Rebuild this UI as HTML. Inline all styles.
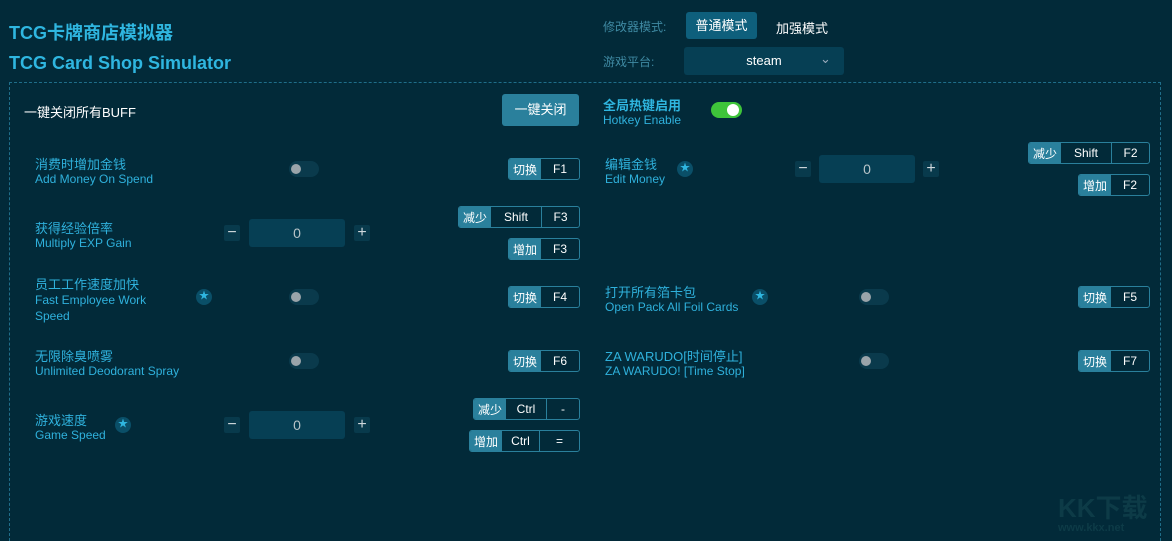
<!DOCTYPE html><html><head><meta charset="utf-8"><style>
*{margin:0;padding:0;box-sizing:border-box}
html,body{width:1172px;height:541px;overflow:hidden}
body{background:#022a39;font-family:"Liberation Sans","Noto Sans CJK SC",sans-serif;position:relative;color:#fff}
.a{position:absolute;white-space:nowrap}
.t{font-weight:bold;color:#2fb6e0;font-size:18px}
.cn{color:#2fb1dc;font-size:13px}
.en{color:#2fb1dc;font-size:12px}
.box{position:absolute;left:9px;top:82px;width:1152px;height:459px;border:1px dashed #1f6e8a;border-bottom:none}
.btn{position:absolute;background:#2a809c;border-radius:3px;color:#fff;font-size:13px;text-align:center}
.tg{position:absolute;width:30px;height:16px;border-radius:8px;background:#0a3a4c}
.tg:after{content:"";position:absolute;left:2px;top:3px;width:10px;height:10px;border-radius:50%;background:#9aa4aa}
.hk{position:absolute;height:22px;border:1px solid #2a809c;border-radius:3px;display:flex;font-size:12px;color:#fff;overflow:hidden}
.hk span{display:flex;align-items:center;justify-content:center;height:100%}
.hk .l{background:#2a809c;padding:0 4px}
.hk .k{border-left:1px solid #2a809c}
.hk .k:nth-child(2){border-left:none}
.sb{position:absolute;width:16px;height:16px;background:#083a4c;border-radius:2px;color:#cfd8dc;font-size:16px;line-height:15px;text-align:center}
.in{position:absolute;width:96px;height:28px;background:#063f54;border-radius:3px;color:#b8c4c8;font-size:14px;text-align:center;line-height:28px}
.st{position:absolute;width:16px;height:16px;border-radius:50%;background:#0a4f68;color:#2fb6e0;font-size:10px;text-align:center;line-height:16px}
</style></head><body>
<div class="a t" style="left:9px;top:19px">TCG卡牌商店模拟器</div>
<div class="a t" style="left:9px;top:53px">TCG Card Shop Simulator</div>
<div class="a" style="left:603px;top:18px;font-size:12px;color:#3f8aa3">修改器模式:</div>
<div class="btn" style="left:686px;top:12px;width:71px;height:27px;line-height:27px;background:#0e5f7c">普通模式</div>
<div class="a" style="left:776px;top:18px;font-size:13px">加强模式</div>
<div class="a" style="left:603px;top:53px;font-size:12px;color:#3f8aa3">游戏平台:</div>
<div class="a" style="left:684px;top:47px;width:160px;height:28px;background:#063f54;border-radius:3px;font-size:13px;text-align:center;line-height:28px">steam<span style="position:absolute;left:136px;top:-2px;color:#9ab">⌄</span></div>
<div class="box"></div>
<div class="a" style="left:24px;top:102px;font-size:13px">一键关闭所有BUFF</div>
<div class="btn" style="left:502px;top:94px;width:77px;height:32px;line-height:32px">一键关闭</div>
<div class="a" style="left:603px;top:95px;font-size:13px;font-weight:bold;color:#2fb6e0">全局热键启用</div>
<div class="a en" style="left:603px;top:113px">Hotkey Enable</div>
<div class="a" style="left:711px;top:102px;width:31px;height:16px;border-radius:8px;background:#3ec43a"><div style="position:absolute;right:3px;top:2px;width:12px;height:12px;border-radius:50%;background:#fff"></div></div>

<div class="a cn" style="left:35px;top:154px">消费时增加金钱</div><div class="a en" style="left:35px;top:172px">Add Money On Spend</div>
<div class="tg" style="left:289px;top:161px"></div>
<div class="hk" style="left:508px;top:158px;width:72px"><span class="l">切换</span><span class="k" style="flex:1">F1</span></div>

<div class="a cn" style="left:605px;top:154px">编辑金钱</div><div class="a en" style="left:605px;top:172px">Edit Money</div>
<div class="st" style="left:677px;top:161px">★</div>
<div class="sb" style="left:795px;top:161px">−</div><div class="in" style="left:819px;top:155px">0</div><div class="sb" style="left:923px;top:161px">+</div>
<div class="hk" style="left:1028px;top:142px;width:122px"><span class="l">减少</span><span class="k" style="width:50px">Shift</span><span class="k" style="flex:1">F2</span></div>
<div class="hk" style="left:1078px;top:174px;width:72px"><span class="l">增加</span><span class="k" style="flex:1">F2</span></div>

<div class="a cn" style="left:35px;top:218px">获得经验倍率</div><div class="a en" style="left:35px;top:236px">Multiply EXP Gain</div>
<div class="sb" style="left:224px;top:225px">−</div><div class="in" style="left:249px;top:219px">0</div><div class="sb" style="left:354px;top:225px">+</div>
<div class="hk" style="left:458px;top:206px;width:122px"><span class="l">减少</span><span class="k" style="width:50px">Shift</span><span class="k" style="flex:1">F3</span></div>
<div class="hk" style="left:508px;top:238px;width:72px"><span class="l">增加</span><span class="k" style="flex:1">F3</span></div>

<div class="a cn" style="left:35px;top:274px">员工工作速度加快</div><div class="a en" style="left:35px;top:292px;line-height:16px">Fast Employee Work<br>Speed</div>
<div class="st" style="left:196px;top:289px">★</div>
<div class="tg" style="left:289px;top:289px"></div>
<div class="hk" style="left:508px;top:286px;width:72px"><span class="l">切换</span><span class="k" style="flex:1">F4</span></div>

<div class="a cn" style="left:605px;top:282px">打开所有箔卡包</div><div class="a en" style="left:605px;top:300px">Open Pack All Foil Cards</div>
<div class="st" style="left:752px;top:289px">★</div>
<div class="tg" style="left:859px;top:289px"></div>
<div class="hk" style="left:1078px;top:286px;width:72px"><span class="l">切换</span><span class="k" style="flex:1">F5</span></div>

<div class="a cn" style="left:35px;top:346px">无限除臭喷雾</div><div class="a en" style="left:35px;top:364px">Unlimited Deodorant Spray</div>
<div class="tg" style="left:289px;top:353px"></div>
<div class="hk" style="left:508px;top:350px;width:72px"><span class="l">切换</span><span class="k" style="flex:1">F6</span></div>

<div class="a cn" style="left:605px;top:346px">ZA WARUDO[时间停止]</div><div class="a en" style="left:605px;top:364px">ZA WARUDO! [Time Stop]</div>
<div class="tg" style="left:859px;top:353px"></div>
<div class="hk" style="left:1078px;top:350px;width:72px"><span class="l">切换</span><span class="k" style="flex:1">F7</span></div>

<div class="a cn" style="left:35px;top:410px">游戏速度</div><div class="a en" style="left:35px;top:428px">Game Speed</div>
<div class="st" style="left:115px;top:417px">★</div>
<div class="sb" style="left:224px;top:417px">−</div><div class="in" style="left:249px;top:411px">0</div><div class="sb" style="left:354px;top:417px">+</div>
<div class="hk" style="left:473px;top:398px;width:107px"><span class="l">减少</span><span class="k" style="width:40px">Ctrl</span><span class="k" style="flex:1">-</span></div>
<div class="hk" style="left:469px;top:430px;width:111px"><span class="l">增加</span><span class="k" style="width:37px">Ctrl</span><span class="k" style="flex:1">=</span></div>

<div class="a" style="left:1058px;top:488px;font-size:26px;font-weight:bold;color:#0d3b47">KK下载</div>
<div class="a" style="left:1058px;top:522px;font-size:11px;font-weight:bold;color:#0d3b47">www.kkx.net</div>
</body></html>
